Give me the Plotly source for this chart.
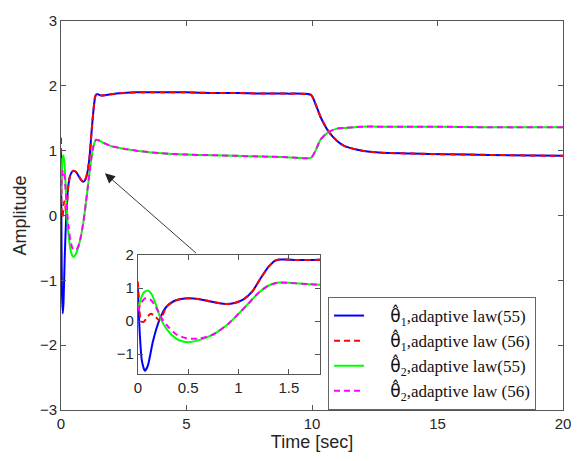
import plotly.graph_objects as go

# ---- data ----
t_b = [0, 0.02, 0.04, 0.07, 0.1, 0.15, 0.21, 0.28, 0.36, 0.43, 0.51, 0.6, 0.7, 0.8, 0.88, 0.95,
       1.05, 1.14, 1.22, 1.3, 1.36, 1.41, 1.47, 1.6, 1.8, 2.2, 3, 4, 5, 6, 7, 8, 9, 9.96,
       10.14, 10.34, 10.67, 11.0, 11.3, 12.0, 12.66, 14, 15.3, 17, 20]
y_b = [1.0, -0.4, -1.2, -1.51, -1.35, -0.62, 0.0, 0.42, 0.61, 0.67, 0.69, 0.67, 0.61, 0.55, 0.52, 0.54,
       0.66, 0.91, 1.3, 1.65, 1.83, 1.87, 1.87, 1.85, 1.86, 1.88, 1.9, 1.9, 1.9, 1.89, 1.89, 1.88, 1.88, 1.86,
       1.72, 1.52, 1.29, 1.15, 1.07, 1.0, 0.97, 0.955, 0.945, 0.935, 0.92]

t_r = [0, 0.015, 0.03, 0.06, 0.1, 0.13, 0.17, 0.21, 0.25, 0.28, 0.36, 0.43, 0.51, 0.6, 0.7, 0.8, 0.88, 0.95,
       1.05, 1.14, 1.22, 1.3, 1.36, 1.41, 1.47, 1.6, 1.8, 2.2, 3, 4, 5, 6, 7, 8, 9, 9.96,
       10.14, 10.34, 10.67, 11.0, 11.3, 12.0, 12.66, 14, 15.3, 17, 20]
y_r = [1.2, 0.5, 0.0, -0.02, 0.15, 0.22, 0.15, 0.03, 0.2, 0.42, 0.61, 0.67, 0.69, 0.67, 0.61, 0.55, 0.52, 0.54,
       0.66, 0.91, 1.3, 1.65, 1.83, 1.87, 1.87, 1.85, 1.86, 1.88, 1.9, 1.9, 1.9, 1.89, 1.89, 1.88, 1.88, 1.86,
       1.72, 1.52, 1.29, 1.15, 1.07, 1.0, 0.97, 0.955, 0.945, 0.935, 0.92]

t_g = [0, 0.03, 0.06, 0.1, 0.14, 0.18, 0.23, 0.3, 0.38, 0.45, 0.5, 0.58, 0.68, 0.8, 0.9, 1.0, 1.1, 1.2,
       1.3, 1.4, 1.5, 1.7, 2, 2.5, 3, 4, 5, 6, 7, 8, 9, 9.96, 10.14, 10.34, 10.67, 11.0, 11.3, 12, 13, 15, 17, 20]
y_g = [0.35, 0.68, 0.87, 0.93, 0.8, 0.5, 0.05, -0.3, -0.53, -0.62, -0.64, -0.6, -0.5, -0.31, -0.08, 0.22, 0.54, 0.86,
       1.08, 1.17, 1.16, 1.12, 1.07, 1.03, 1.0, 0.96, 0.94, 0.93, 0.92, 0.91, 0.9, 0.89, 1.0, 1.17, 1.29, 1.34, 1.35, 1.37, 1.37, 1.37, 1.36, 1.36]

t_m = [0, 0.03, 0.08, 0.13, 0.18, 0.25, 0.31, 0.38, 0.48, 0.61, 0.74, 0.8, 0.9, 1.0, 1.1, 1.2,
       1.3, 1.4, 1.5, 1.7, 2, 2.5, 3, 4, 5, 6, 7, 8, 9, 9.96, 10.14, 10.34, 10.67, 11.0, 11.3, 12, 13, 15, 17, 20]
y_m = [0.3, 0.55, 0.7, 0.64, 0.42, 0.02, -0.2, -0.4, -0.52, -0.53, -0.42, -0.31, -0.08, 0.22, 0.54, 0.86,
       1.08, 1.17, 1.16, 1.12, 1.07, 1.03, 1.0, 0.96, 0.94, 0.93, 0.92, 0.91, 0.9, 0.89, 1.0, 1.17, 1.29, 1.34, 1.35, 1.37, 1.37, 1.37, 1.36, 1.36]

TH = '&nbsp;&nbsp;&nbsp;&nbsp;&nbsp;<span style="font-family:DejaVu Sans">θ\u0302</span>'
names = [TH + "<sub>1</sub>,adaptive law(55)", TH + "<sub>1</sub>,adaptive law (56)",
         TH + "<sub>2</sub>,adaptive law(55)", TH + "<sub>2</sub>,adaptive law (56)"]

x_ticks_main = [0, 5, 10, 15, 20]
y_ticks_main = [-3, -2, -1, 0, 1, 2, 3]
x_ticks_inset = [0, 0.5, 1, 1.5]
y_ticks_inset = [-1, 0, 1, 2]

series = [
    (t_b, y_b, "#0000FF", "solid"),
    (t_r, y_r, "#FF0000", "dash"),
    (t_g, y_g, "#00FF00", "solid"),
    (t_m, y_m, "#FF00FF", "dash"),
]

fig = go.Figure()
for i, (t, y, c, d) in enumerate(series):
    fig.add_trace(go.Scatter(x=t, y=y, mode="lines", name=names[i], legendgroup=str(i),
                             line=dict(color=c, dash="6px,4px" if d == "dash" else "solid", width=2,
                                       shape="spline", smoothing=0.6),
                             xaxis="x", yaxis="y"))
for i, (t, y, c, d) in enumerate(series):
    fig.add_trace(go.Scatter(x=t, y=y, mode="lines", showlegend=False,
                             line=dict(color=c, dash="6px,4px" if d == "dash" else "solid", width=2,
                                       shape="spline", smoothing=0.6),
                             xaxis="x2", yaxis="y2"))

axcol = "#555555"
tickfont = dict(family="Liberation Sans, Arial, sans-serif", size=15, color="#262626")
common = dict(showline=True, linecolor=axcol, linewidth=1, mirror="ticks", ticks="inside",
              ticklen=5, tickcolor=axcol, showgrid=False, zeroline=False, tickfont=tickfont)

fig.update_layout(
    width=583, height=461,
    margin=dict(l=61, r=18, t=12, b=51),
    paper_bgcolor="white", plot_bgcolor="white",
    xaxis=dict(range=[0, 20], tickvals=x_ticks_main, domain=[0, 1], anchor="y",
               title=dict(text="Time [sec]", font=dict(family="Liberation Sans, Arial", size=18, color="#262626"), standoff=4),
               **common),
    yaxis=dict(range=[-3, 3], tickvals=y_ticks_main, domain=[0, 1], anchor="x",
               title=dict(text="Amplitude", font=dict(family="Liberation Sans, Arial", size=18, color="#262626"), standoff=8),
               **common),
    xaxis2=dict(range=[0, 1.81], tickvals=x_ticks_inset, domain=[0.153, 0.516], anchor="y2", **common),
    yaxis2=dict(range=[-1.6, 2], tickvals=y_ticks_inset, domain=[0.093, 0.398], anchor="x2", **common),
    showlegend=True,
    legend=dict(x=0.532, y=0, xanchor="left", yanchor="bottom", bgcolor="white",
                bordercolor="#666666", borderwidth=1, tracegroupgap=0,
                entrywidth=225, entrywidthmode="pixels",
                font=dict(family="Liberation Serif, Times New Roman, serif", size=17, color="#111111")),
)

fig.add_annotation(x=1.75, y=0.65, ax=5.44, ay=-0.6, xref="x", yref="y", axref="x", ayref="y",
                   text="", showarrow=True, arrowhead=2, arrowsize=2.2, arrowwidth=0.9, arrowcolor="#222222")

fig.write_html("out.html")
